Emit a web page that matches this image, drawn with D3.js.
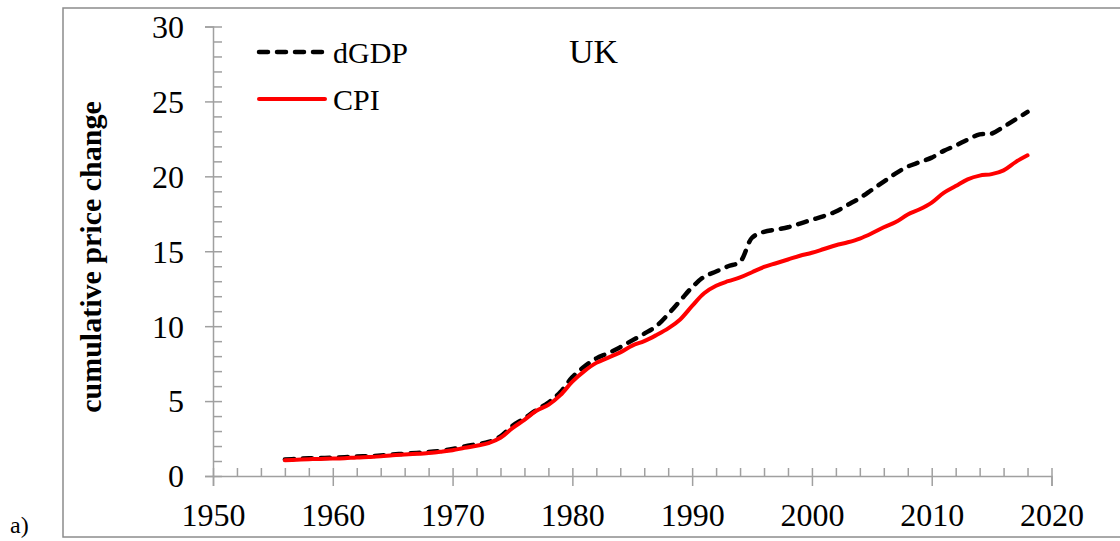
<!DOCTYPE html>
<html lang="en">
<head>
  <meta charset="UTF-8">
  <title>UK cumulative price change</title>
  <script src="https://d3js.org/d3.v7.min.js"></script>
  <style>
    body { margin: 0; background: #fff; }
    text { font-family: "Liberation Serif", "DejaVu Serif", serif; fill: #000; }
  </style>
</head>
<body>
  <svg id="chart" width="1120" height="541"></svg>

  <script>
    const years = d3.range(1956, 2019);

    const dgdp = [
      1.10, 1.14, 1.18, 1.20, 1.22, 1.25, 1.30, 1.32, 1.37, 1.43,
      1.49, 1.54, 1.60, 1.68, 1.80, 1.97, 2.12, 2.27, 2.65, 3.35,
      3.85, 4.40, 4.90, 5.60, 6.60, 7.30, 7.85, 8.20, 8.60, 9.05,
      9.50, 10.00, 10.80, 11.70, 12.60, 13.30, 13.65, 14.00, 14.30, 15.90,
      16.30, 16.45, 16.60, 16.85, 17.10, 17.35, 17.65, 18.10, 18.55, 19.10,
      19.65, 20.20, 20.65, 20.95, 21.25, 21.70, 22.05, 22.45, 22.80, 22.85,
      23.30, 23.80, 24.30
    ];

    const cpi = [
      1.05, 1.09, 1.12, 1.14, 1.16, 1.19, 1.24, 1.27, 1.31, 1.38,
      1.43, 1.48, 1.54, 1.62, 1.72, 1.88, 2.02, 2.20, 2.55, 3.20,
      3.75, 4.35, 4.75, 5.40, 6.30, 7.00, 7.55, 7.90, 8.25, 8.70,
      9.00, 9.40, 9.85, 10.45, 11.35, 12.20, 12.70, 13.00, 13.25, 13.60,
      13.95, 14.20, 14.45, 14.70, 14.90, 15.15, 15.40, 15.60, 15.85, 16.20,
      16.60, 16.95, 17.45, 17.80, 18.25, 18.90, 19.35, 19.80, 20.05, 20.15,
      20.40, 20.95, 21.40
    ];

    const xTicks = [1950, 1960, 1970, 1980, 1990, 2000, 2010, 2020];
    const yTicks = [0, 5, 10, 15, 20, 25, 30];

    const svg = d3.select("#chart");
    const axisColor = "#a0a0a0";

    // outer frame
    svg.append("rect")
      .attr("x", 63).attr("y", 8)
      .attr("width", 1080).attr("height", 529)
      .attr("fill", "none")
      .attr("stroke", "#8c8c8c")
      .attr("stroke-width", 1.5);

    const x = d3.scaleLinear().domain([1950, 2020]).range([213, 1051.5]);
    const y = d3.scaleLinear().domain([0, 30]).range([476, 26.5]);

    // minor ticks (inside)
    svg.append("g")
      .attr("transform", `translate(0,${y(0)})`)
      .call(d3.axisTop(x).tickValues(d3.range(1950, 2021, 2)).tickSize(8).tickFormat(""))
      .call(g => g.select(".domain").remove());
    svg.append("g")
      .attr("transform", `translate(${x(1950)},0)`)
      .call(d3.axisRight(y).tickValues(d3.range(0, 31, 1)).tickSize(9).tickFormat(""))
      .call(g => g.select(".domain").remove());

    // major ticks + labels
    const xAxis = svg.append("g")
      .attr("transform", `translate(0,${y(0)})`)
      .call(d3.axisBottom(x).tickValues(xTicks).tickSize(10).tickPadding(22).tickFormat(d3.format("d")));
    xAxis.selectAll("text").attr("font-size", 32).attr("font-family", "Liberation Serif").attr("dy", "0.55em");

    const yAxis = svg.append("g")
      .attr("transform", `translate(${x(1950)},0)`)
      .call(d3.axisLeft(y).tickValues(yTicks).tickSize(8).tickPadding(21));
    yAxis.selectAll("text").attr("font-size", 32).attr("font-family", "Liberation Serif").attr("dy", "0.34em");

    svg.selectAll(".tick line, .domain")
      .attr("stroke", axisColor)
      .attr("stroke-width", 1.5);

    // lines
    const line = d3.line()
      .x((d, i) => x(years[i]))
      .y(d => y(d))
      .curve(d3.curveCatmullRom);

    svg.append("path")
      .datum(dgdp)
      .attr("d", line)
      .attr("fill", "none")
      .attr("stroke", "#000")
      .attr("stroke-width", 4.5)
      .attr("stroke-linecap", "round")
      .attr("stroke-dasharray", "9,9");

    svg.append("path")
      .datum(cpi)
      .attr("d", line)
      .attr("fill", "none")
      .attr("stroke", "#ff0000")
      .attr("stroke-width", 4)
      .attr("stroke-linecap", "round");

    // legend
    const legend = [
      { name: "dGDP", color: "#000", dash: "9,9", w: 4.5, y: 52 },
      { name: "CPI", color: "#ff0000", dash: null, w: 4, y: 99 }
    ];
    legend.forEach(d => {
      svg.append("line")
        .attr("x1", 259).attr("x2", 325)
        .attr("y1", d.y).attr("y2", d.y)
        .attr("stroke", d.color)
        .attr("stroke-width", d.w)
        .attr("stroke-linecap", "round")
        .attr("stroke-dasharray", d.dash);
      svg.append("text")
        .attr("x", 333).attr("y", d.y + 11)
        .attr("font-size", 30)
        .text(d.name);
    });

    svg.append("text")
      .attr("x", 569).attr("y", 63)
      .attr("font-size", 34)
      .text("UK");

    svg.append("text")
      .attr("transform", "translate(101,257) rotate(-90)")
      .attr("text-anchor", "middle")
      .attr("font-size", 30)
      .attr("font-weight", "bold")
      .text("cumulative price change");

    svg.append("text")
      .attr("x", 10).attr("y", 533)
      .attr("font-size", 24)
      .text("a)");
  </script>
</body>
</html>
